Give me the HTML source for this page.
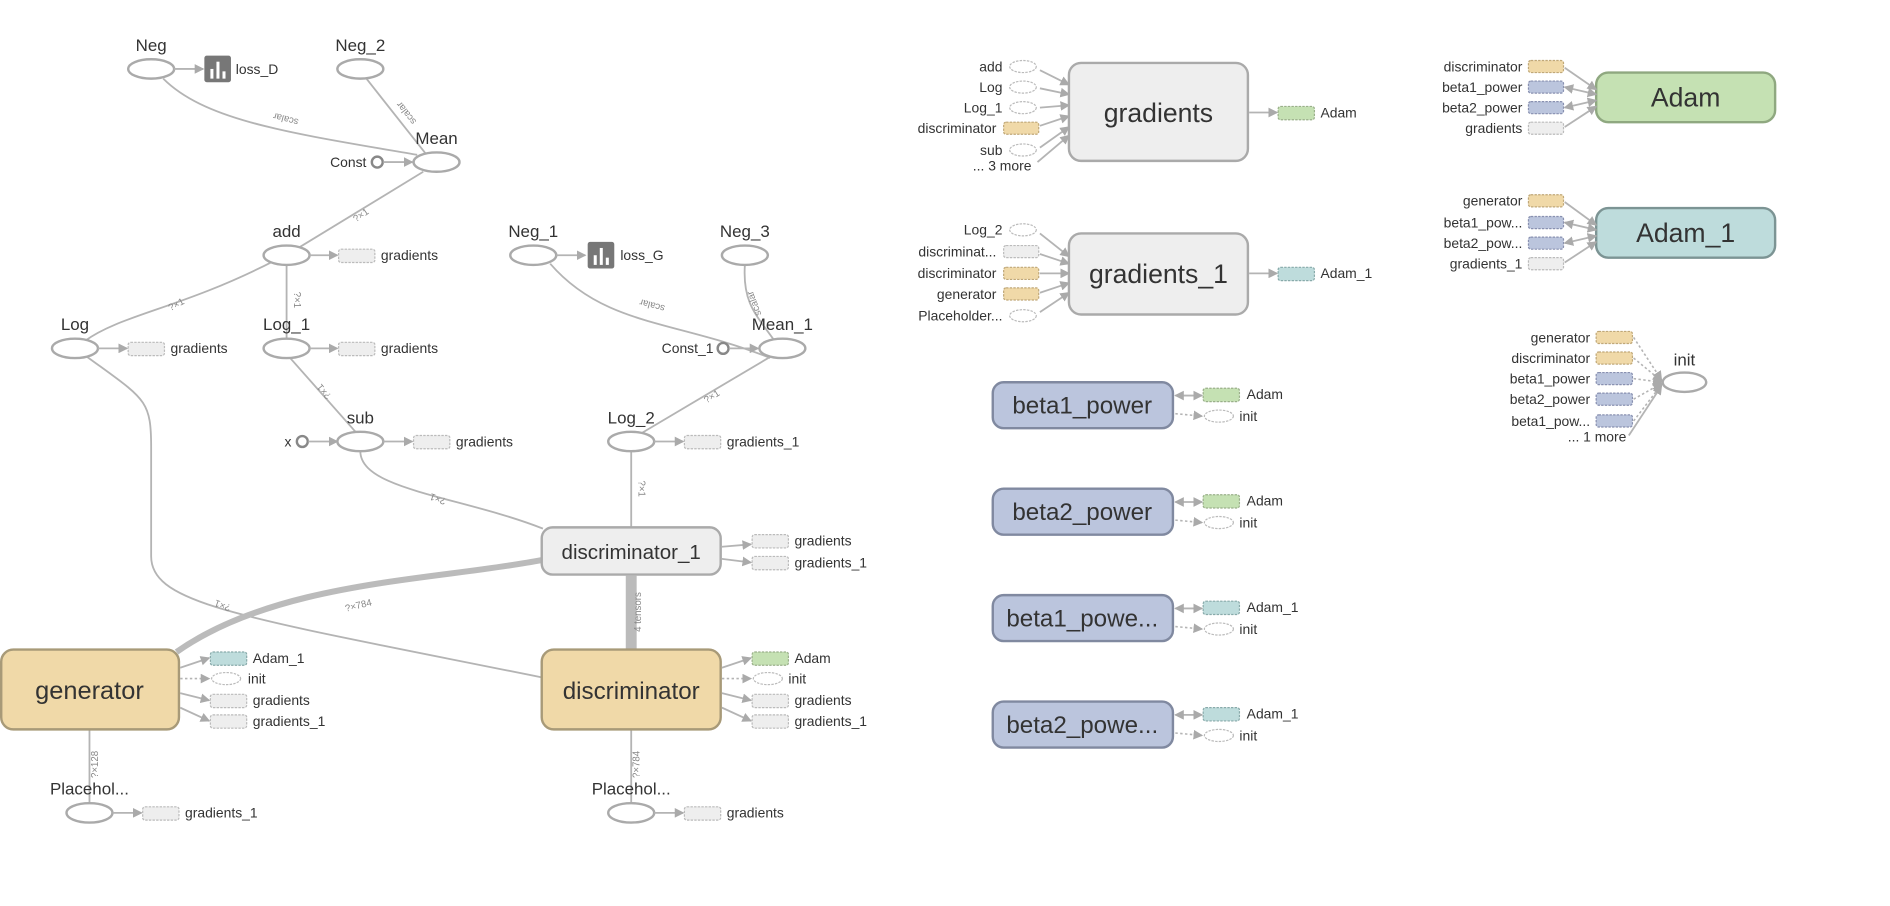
<!DOCTYPE html>
<html><head><meta charset="utf-8"><style>
html,body{margin:0;padding:0;background:#fff;}
svg{display:block;}
text{font-family:"Liberation Sans",sans-serif;fill:#333;}
.e{fill:none;stroke:#b4b4b4;stroke-width:1.5;}
.d{fill:none;stroke:#b4b4b4;stroke-width:1.3;stroke-dasharray:2,2;}
.n{fill:#fff;stroke:#aaa;stroke-width:2;}
.ob{fill:#eee;stroke:#bbb;stroke-width:1;stroke-dasharray:2,1;}
.oe{fill:#fff;stroke:#bbb;stroke-width:1;stroke-dasharray:2,1;}
.og{fill:#c5e1b3;stroke:#9ab08a;stroke-width:1;stroke-dasharray:2,1;}
.oc{fill:#bedcdc;stroke:#8aa;stroke-width:1;stroke-dasharray:2,1;}
.oo{fill:#f0d9a8;stroke:#c0a878;stroke-width:1;stroke-dasharray:2,1;}
.ov{fill:#bbc5dd;stroke:#8890b0;stroke-width:1;stroke-dasharray:2,1;}
.l{font-size:14px;}
.s{font-size:11.5px;}
.t{font-size:8px;fill:#888;}
.r{text-anchor:end;}
.m{text-anchor:middle;}
</style></head><body>
<svg width="1890" height="906" viewBox="0 0 1563 749" preserveAspectRatio="none" xmlns="http://www.w3.org/2000/svg">
<defs>
<marker id="a" markerWidth="8" markerHeight="8" refX="7" refY="4" orient="auto" markerUnits="userSpaceOnUse"><path d="M0,0L8,4L0,8z" fill="#aaa"/></marker>
<marker id="b" markerWidth="8" markerHeight="8" refX="1" refY="4" orient="auto" markerUnits="userSpaceOnUse"><path d="M8,0L0,4L8,8z" fill="#aaa"/></marker>
</defs>

<path class="e" d="M135,65 C170,100 240,110 345,128"/>
<text class="t" transform="translate(237,96) rotate(195)" text-anchor="middle">scalar</text>
<path class="e" d="M303,65 L352,127"/>
<text class="t" transform="translate(338,92) rotate(232)" text-anchor="middle">scalar</text>
<path class="e" d="M350,142 L245,206"/>
<text class="t" transform="translate(300,180) rotate(-35)" text-anchor="middle">?×1</text>
<path class="e" d="M226,216 C150,255 100,260 70,282"/>
<text class="t" transform="translate(147,254) rotate(-28)" text-anchor="middle">?×1</text>
<path class="e" d="M237,219 L237,281"/>
<text class="t" transform="translate(243,248) rotate(90)" text-anchor="middle">?×1</text>
<path class="e" d="M240,296 L294,357"/>
<text class="t" transform="translate(270,322) rotate(230)" text-anchor="middle">?×1</text>
<path class="e" d="M455,218 C500,270 560,265 637,296"/>
<text class="t" transform="translate(540,250) rotate(195)" text-anchor="middle">scalar</text>
<path class="e" d="M616,219 C614,250 625,260 640,281"/>
<text class="t" transform="translate(626,250) rotate(250)" text-anchor="middle">scalar</text>
<path class="e" d="M529,359 L637,295"/>
<text class="t" transform="translate(590,330) rotate(-32)" text-anchor="middle">?×1</text>
<path class="e" d="M298,373 C298,405 380,410 449,437"/>
<text class="t" transform="translate(363,410) rotate(200)" text-anchor="middle">?×1</text>
<path class="e" d="M522,373 L522,436"/>
<text class="t" transform="translate(528,404) rotate(90)" text-anchor="middle">?×1</text>
<path class="e" d="M72,295 C120,330 125,330 125,370 L125,460 C125,500 200,510 448,560"/>
<text class="t" transform="translate(185,498) rotate(200)" text-anchor="middle">?×1</text>
<path d="M146,539 C230,480 360,480 448,463" fill="none" stroke="#bbb" stroke-width="5"/>
<text class="t" transform="translate(297,503) rotate(-14)" text-anchor="middle">?×784</text>
<path d="M522,476 L522,537" fill="none" stroke="#bbb" stroke-width="9"/>
<text class="t" transform="translate(530,506) rotate(-90)" text-anchor="middle" style="font-size:8px">4 tensors</text>
<path class="e" d="M74,603 L74,664"/>
<text class="t" transform="translate(81,632) rotate(-90)" text-anchor="middle">?×128</text>
<path class="e" d="M522,603 L522,664"/>
<text class="t" transform="translate(529,632) rotate(-90)" text-anchor="middle">?×784</text>

<text class="l m" x="125" y="42">Neg</text>
<ellipse class="n" cx="125" cy="57" rx="19" ry="8"/>
<path class="e" d="M144,57L168,57" marker-end="url(#a)"/>
<rect x="169" y="46" width="22" height="22" rx="2" fill="#777"/>
<rect x="174" y="57" width="2.5" height="8" fill="#fff"/><rect x="179" y="51" width="2.5" height="14" fill="#fff"/><rect x="184" y="59" width="2.5" height="6" fill="#fff"/>
<text class="s" x="195" y="61">loss_D</text>

<text class="l m" x="298" y="42">Neg_2</text>
<ellipse class="n" cx="298" cy="57" rx="19" ry="8"/>

<text class="l m" x="361" y="119">Mean</text>
<ellipse class="n" cx="361" cy="134" rx="19" ry="8"/>
<circle cx="312" cy="134" r="4.5" fill="#fff" stroke="#888" stroke-width="2"/>
<text class="s r" x="303" y="138">Const</text>
<path class="e" d="M317,134L341,134" marker-end="url(#a)"/>

<text class="l m" x="237" y="196">add</text>
<ellipse class="n" cx="237" cy="211" rx="19" ry="8"/>
<path class="e" d="M256,211L279,211" marker-end="url(#a)"/>
<rect class="ob" x="280" y="206" width="30" height="11" rx="2"/>
<text class="s" x="315" y="215">gradients</text>

<text class="l m" x="62" y="273">Log</text>
<ellipse class="n" cx="62" cy="288" rx="19" ry="8"/>
<path class="e" d="M81,288L105,288" marker-end="url(#a)"/>
<rect class="ob" x="106" y="283" width="30" height="11" rx="2"/>
<text class="s" x="141" y="292">gradients</text>

<text class="l m" x="237" y="273">Log_1</text>
<ellipse class="n" cx="237" cy="288" rx="19" ry="8"/>
<path class="e" d="M256,288L279,288" marker-end="url(#a)"/>
<rect class="ob" x="280" y="283" width="30" height="11" rx="2"/>
<text class="s" x="315" y="292">gradients</text>

<text class="l m" x="298" y="350">sub</text>
<ellipse class="n" cx="298" cy="365" rx="19" ry="8"/>
<circle cx="250" cy="365" r="4.5" fill="#fff" stroke="#888" stroke-width="2"/>
<text class="s r" x="241" y="369">x</text>
<path class="e" d="M255,365L279,365" marker-end="url(#a)"/>
<path class="e" d="M317,365L341,365" marker-end="url(#a)"/>
<rect class="ob" x="342" y="360" width="30" height="11" rx="2"/>
<text class="s" x="377" y="369">gradients</text>

<text class="l m" x="441" y="196">Neg_1</text>
<ellipse class="n" cx="441" cy="211" rx="19" ry="8"/>
<path class="e" d="M460,211L484,211" marker-end="url(#a)"/>
<rect x="486" y="200" width="22" height="22" rx="2" fill="#777"/>
<rect x="491" y="211" width="2.5" height="8" fill="#fff"/><rect x="496" y="205" width="2.5" height="14" fill="#fff"/><rect x="501" y="213" width="2.5" height="6" fill="#fff"/>
<text class="s" x="513" y="215">loss_G</text>

<text class="l m" x="616" y="196">Neg_3</text>
<ellipse class="n" cx="616" cy="211" rx="19" ry="8"/>

<text class="l m" x="647" y="273">Mean_1</text>
<ellipse class="n" cx="647" cy="288" rx="19" ry="8"/>
<circle cx="598" cy="288" r="4.5" fill="#fff" stroke="#888" stroke-width="2"/>
<text class="s r" x="590" y="292">Const_1</text>
<path class="e" d="M603,288L627,288" marker-end="url(#a)"/>

<text class="l m" x="522" y="350">Log_2</text>
<ellipse class="n" cx="522" cy="365" rx="19" ry="8"/>
<path class="e" d="M541,365L565,365" marker-end="url(#a)"/>
<rect class="ob" x="566" y="360" width="30" height="11" rx="2"/>
<text class="s" x="601" y="369">gradients_1</text>

<rect x="448" y="436" width="148" height="39" rx="9" fill="#eee" stroke="#aaa" stroke-width="2"/>
<text class="m" x="522" y="462" style="font-size:17px">discriminator_1</text>
<path class="e" d="M597,452L621,450" marker-end="url(#a)"/>
<rect class="ob" x="622" y="442" width="30" height="11" rx="2"/>
<text class="s" x="657" y="451">gradients</text>
<path class="e" d="M597,462L621,465" marker-end="url(#a)"/>
<rect class="ob" x="622" y="460" width="30" height="11" rx="2"/>
<text class="s" x="657" y="469">gradients_1</text>

<rect x="1" y="537" width="147" height="66" rx="10" fill="#f0d9a8" stroke="#a89a78" stroke-width="2"/>
<text class="m" x="74" y="578" style="font-size:21px">generator</text>
<path class="e" d="M149,552L173,544" marker-end="url(#a)"/>
<rect class="oc" x="174" y="539" width="30" height="11" rx="2"/>
<path class="d" d="M149,561L173,561" marker-end="url(#a)"/>
<ellipse class="oe" cx="187" cy="561" rx="12" ry="5"/>
<path class="e" d="M149,573L173,579" marker-end="url(#a)"/>
<rect class="ob" x="174" y="574" width="30" height="11" rx="2"/>
<path class="e" d="M149,585L173,596" marker-end="url(#a)"/>
<rect class="ob" x="174" y="591" width="30" height="11" rx="2"/>
<text class="s" x="209" y="548">Adam_1</text>
<text class="s" x="205" y="565">init</text>
<text class="s" x="209" y="583">gradients</text>
<text class="s" x="209" y="600">gradients_1</text>

<rect x="448" y="537" width="148" height="66" rx="10" fill="#f0d9a8" stroke="#a89a78" stroke-width="2"/>
<text class="m" x="522" y="578" style="font-size:20px">discriminator</text>
<path class="e" d="M597,552L621,544" marker-end="url(#a)"/>
<rect class="og" x="622" y="539" width="30" height="11" rx="2"/>
<path class="d" d="M597,561L621,561" marker-end="url(#a)"/>
<ellipse class="oe" cx="635" cy="561" rx="12" ry="5"/>
<path class="e" d="M597,573L621,579" marker-end="url(#a)"/>
<rect class="ob" x="622" y="574" width="30" height="11" rx="2"/>
<path class="e" d="M597,585L621,596" marker-end="url(#a)"/>
<rect class="ob" x="622" y="591" width="30" height="11" rx="2"/>
<text class="s" x="657" y="548">Adam</text>
<text class="s" x="652" y="565">init</text>
<text class="s" x="657" y="583">gradients</text>
<text class="s" x="657" y="600">gradients_1</text>

<text class="l m" x="74" y="657">Placehol...</text>
<ellipse class="n" cx="74" cy="672" rx="19" ry="8"/>
<path class="e" d="M93,672L117,672" marker-end="url(#a)"/>
<rect class="ob" x="118" y="667" width="30" height="11" rx="2"/>
<text class="s" x="153" y="676">gradients_1</text>

<text class="l m" x="522" y="657">Placehol...</text>
<ellipse class="n" cx="522" cy="672" rx="19" ry="8"/>
<path class="e" d="M541,672L565,672" marker-end="url(#a)"/>
<rect class="ob" x="566" y="667" width="30" height="11" rx="2"/>
<text class="s" x="601" y="676">gradients</text>

<rect x="884" y="52" width="148" height="81" rx="10" fill="#eee" stroke="#aaa" stroke-width="2"/>
<text class="m" x="958" y="101" style="font-size:22px">gradients</text>
<ellipse class="oe" cx="846" cy="55" rx="11" ry="5"/><text class="s r" x="829" y="59">add</text>
<ellipse class="oe" cx="846" cy="72" rx="11" ry="5"/><text class="s r" x="829" y="76">Log</text>
<ellipse class="oe" cx="846" cy="89" rx="11" ry="5"/><text class="s r" x="829" y="93">Log_1</text>
<rect class="oo" x="830" y="101" width="29" height="10" rx="2"/><text class="s r" x="824" y="110">discriminator</text>
<ellipse class="oe" cx="846" cy="124" rx="11" ry="5"/><text class="s r" x="829" y="128">sub</text>
<text class="s r" x="853" y="141">... 3 more</text>
<path class="e" d="M860,58L884,70" marker-end="url(#a)"/>
<path class="e" d="M860,73L884,78" marker-end="url(#a)"/>
<path class="e" d="M860,89L884,87" marker-end="url(#a)"/>
<path class="e" d="M860,104L884,96" marker-end="url(#a)"/>
<path class="e" d="M860,122L884,105" marker-end="url(#a)"/>
<path class="e" d="M858,134L884,112" marker-end="url(#a)"/>
<path class="e" d="M1033,93L1056,93" marker-end="url(#a)"/>
<rect class="og" x="1057" y="88" width="30" height="11" rx="2"/><text class="s" x="1092" y="97">Adam</text>

<rect x="884" y="193" width="148" height="67" rx="10" fill="#eee" stroke="#aaa" stroke-width="2"/>
<text class="m" x="958" y="234" style="font-size:22px">gradients_1</text>
<ellipse class="oe" cx="846" cy="190" rx="11" ry="5"/><text class="s r" x="829" y="194">Log_2</text>
<rect class="ob" x="830" y="203" width="29" height="10" rx="2"/><text class="s r" x="824" y="212">discriminat...</text>
<rect class="oo" x="830" y="221" width="29" height="10" rx="2"/><text class="s r" x="824" y="230">discriminator</text>
<rect class="oo" x="830" y="238" width="29" height="10" rx="2"/><text class="s r" x="824" y="247">generator</text>
<ellipse class="oe" cx="846" cy="261" rx="11" ry="5"/><text class="s r" x="829" y="265">Placeholder...</text>
<path class="e" d="M860,193L884,212" marker-end="url(#a)"/>
<path class="e" d="M860,210L884,218" marker-end="url(#a)"/>
<path class="e" d="M860,226L884,226" marker-end="url(#a)"/>
<path class="e" d="M860,242L884,234" marker-end="url(#a)"/>
<path class="e" d="M860,258L884,242" marker-end="url(#a)"/>
<path class="e" d="M1033,226L1056,226" marker-end="url(#a)"/>
<rect class="oc" x="1057" y="221" width="30" height="11" rx="2"/><text class="s" x="1092" y="230">Adam_1</text>

<rect x="1320" y="60" width="148" height="41" rx="10" fill="#c5e1b3" stroke="#8fa880" stroke-width="2"/>
<text class="m" x="1394" y="88" style="font-size:22px">Adam</text>
<rect class="oo" x="1264" y="50" width="29" height="10" rx="2"/><text class="s r" x="1259" y="59">discriminator</text>
<rect class="ov" x="1264" y="67" width="29" height="10" rx="2"/><text class="s r" x="1259" y="76">beta1_power</text>
<rect class="ov" x="1264" y="84" width="29" height="10" rx="2"/><text class="s r" x="1259" y="93">beta2_power</text>
<rect class="ob" x="1264" y="101" width="29" height="10" rx="2"/><text class="s r" x="1259" y="110">gradients</text>
<path class="e" d="M1294,56L1320,74" marker-end="url(#a)"/>
<path class="e" d="M1294,72L1320,78" marker-end="url(#a)" marker-start="url(#b)"/>
<path class="e" d="M1294,89L1320,83" marker-end="url(#a)" marker-start="url(#b)"/>
<path class="e" d="M1294,105L1320,88" marker-end="url(#a)"/>

<rect x="1320" y="172" width="148" height="41" rx="10" fill="#bedcdc" stroke="#7c9494" stroke-width="2"/>
<text class="m" x="1394" y="200" style="font-size:22px">Adam_1</text>
<rect class="oo" x="1264" y="161" width="29" height="10" rx="2"/><text class="s r" x="1259" y="170">generator</text>
<rect class="ov" x="1264" y="179" width="29" height="10" rx="2"/><text class="s r" x="1259" y="188">beta1_pow...</text>
<rect class="ov" x="1264" y="196" width="29" height="10" rx="2"/><text class="s r" x="1259" y="205">beta2_pow...</text>
<rect class="ob" x="1264" y="213" width="29" height="10" rx="2"/><text class="s r" x="1259" y="222">gradients_1</text>
<path class="e" d="M1294,167L1320,186" marker-end="url(#a)"/>
<path class="e" d="M1294,184L1320,190" marker-end="url(#a)" marker-start="url(#b)"/>
<path class="e" d="M1294,201L1320,195" marker-end="url(#a)" marker-start="url(#b)"/>
<path class="e" d="M1294,217L1320,200" marker-end="url(#a)"/>

<text class="l m" x="1393" y="302">init</text>
<ellipse class="n" cx="1393" cy="316" rx="18" ry="8"/>
<rect class="oo" x="1320" y="274" width="30" height="10" rx="2"/><text class="s r" x="1315" y="283">generator</text>
<rect class="oo" x="1320" y="291" width="30" height="10" rx="2"/><text class="s r" x="1315" y="300">discriminator</text>
<rect class="ov" x="1320" y="308" width="30" height="10" rx="2"/><text class="s r" x="1315" y="317">beta1_power</text>
<rect class="ov" x="1320" y="325" width="30" height="10" rx="2"/><text class="s r" x="1315" y="334">beta2_power</text>
<rect class="ov" x="1320" y="343" width="30" height="10" rx="2"/><text class="s r" x="1315" y="352">beta1_pow...</text>
<text class="s r" x="1345" y="365">... 1 more</text>
<path class="d" d="M1351,279L1374,314" marker-end="url(#a)"/>
<path class="d" d="M1351,296L1374,315" marker-end="url(#a)"/>
<path class="d" d="M1351,313L1374,316" marker-end="url(#a)"/>
<path class="d" d="M1351,330L1374,317" marker-end="url(#a)"/>
<path class="d" d="M1351,348L1374,318" marker-end="url(#a)"/>
<path class="e" d="M1347,360L1374,319" marker-end="url(#a)"/>

<rect x="821" y="316" width="149" height="38" rx="9" fill="#bbc5dd" stroke="#8089a0" stroke-width="2"/>
<text class="m" x="895" y="342" style="font-size:20px">beta1_power</text>
<path class="e" d="M972,327L994,327" marker-end="url(#a)" marker-start="url(#b)"/>
<rect class="og" x="995" y="321" width="30" height="11" rx="2"/><text class="s" x="1031" y="330">Adam</text>
<path class="d" d="M972,342L994,344" marker-end="url(#a)"/>
<ellipse class="oe" cx="1008" cy="344" rx="12" ry="5"/><text class="s" x="1025" y="348">init</text>

<rect x="821" y="404" width="149" height="38" rx="9" fill="#bbc5dd" stroke="#8089a0" stroke-width="2"/>
<text class="m" x="895" y="430" style="font-size:20px">beta2_power</text>
<path class="e" d="M972,415L994,415" marker-end="url(#a)" marker-start="url(#b)"/>
<rect class="og" x="995" y="409" width="30" height="11" rx="2"/><text class="s" x="1031" y="418">Adam</text>
<path class="d" d="M972,430L994,432" marker-end="url(#a)"/>
<ellipse class="oe" cx="1008" cy="432" rx="12" ry="5"/><text class="s" x="1025" y="436">init</text>

<rect x="821" y="492" width="149" height="38" rx="9" fill="#bbc5dd" stroke="#8089a0" stroke-width="2"/>
<text class="m" x="895" y="518" style="font-size:20px">beta1_powe...</text>
<path class="e" d="M972,503L994,503" marker-end="url(#a)" marker-start="url(#b)"/>
<rect class="oc" x="995" y="497" width="30" height="11" rx="2"/><text class="s" x="1031" y="506">Adam_1</text>
<path class="d" d="M972,518L994,520" marker-end="url(#a)"/>
<ellipse class="oe" cx="1008" cy="520" rx="12" ry="5"/><text class="s" x="1025" y="524">init</text>

<rect x="821" y="580" width="149" height="38" rx="9" fill="#bbc5dd" stroke="#8089a0" stroke-width="2"/>
<text class="m" x="895" y="606" style="font-size:20px">beta2_powe...</text>
<path class="e" d="M972,591L994,591" marker-end="url(#a)" marker-start="url(#b)"/>
<rect class="oc" x="995" y="585" width="30" height="11" rx="2"/><text class="s" x="1031" y="594">Adam_1</text>
<path class="d" d="M972,606L994,608" marker-end="url(#a)"/>
<ellipse class="oe" cx="1008" cy="608" rx="12" ry="5"/><text class="s" x="1025" y="612">init</text>
</svg>
</body></html>
